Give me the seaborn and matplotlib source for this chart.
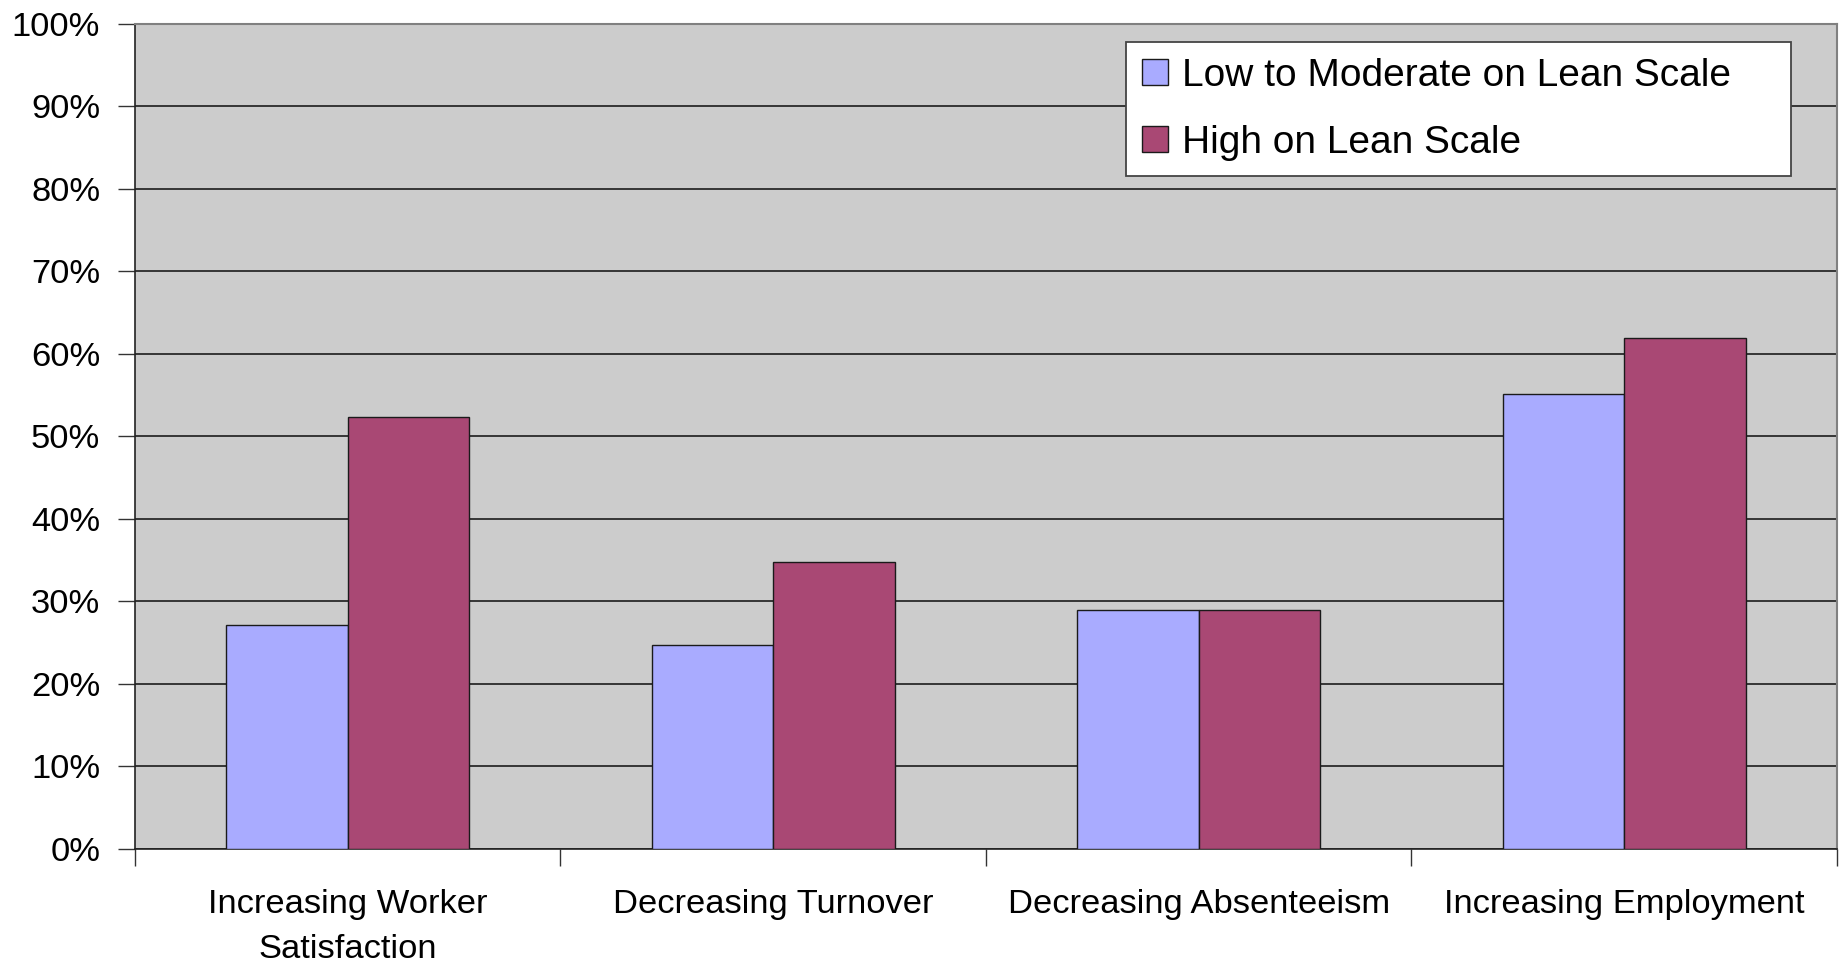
import matplotlib
matplotlib.use("Agg")
import matplotlib.pyplot as plt
from matplotlib.ticker import FixedLocator, FuncFormatter
import pandas as pd
import seaborn as sns

categories = ["Increasing Worker\nSatisfaction", "Decreasing Turnover",
              "Decreasing Absenteeism", "Increasing Employment"]
series_names = ["Low to Moderate on Lean Scale", "High on Lean Scale"]
low_values = [27.1, 24.7, 29.0, 55.1]
high_values = [52.4, 34.8, 29.0, 61.9]
colors = ["#A9ABFF", "#A94874"]
y_ticks = list(range(0, 101, 10))

df = pd.DataFrame({
    "category": categories * 2,
    "group": [series_names[0]] * len(categories) + [series_names[1]] * len(categories),
    "value": low_values + high_values,
})

sns.set_theme(style="white")
plt.rcParams["font.family"] = ["Liberation Sans", "DejaVu Sans"]

fig = plt.figure(figsize=(18.41, 9.63), dpi=100)
ax = fig.add_axes([0.0733, 0.1184, 0.9245, 0.8567])
ax.set_facecolor("#CCCCCC")

sns.barplot(data=df, x="category", y="value", hue="group", order=categories,
            hue_order=series_names, palette=colors, width=4 / 7, gap=0,
            edgecolor="#1a1a1a", linewidth=1.0, saturation=1, ax=ax, zorder=3)

ax.set_ylim(0, 100)
ax.set_xlim(-0.5, len(categories) - 0.5)
ax.yaxis.set_major_locator(FixedLocator(y_ticks))
ax.yaxis.set_major_formatter(FuncFormatter(lambda v, _: f"{int(v)}%"))
ax.grid(axis="y", color="#2a2a2a", linewidth=1.3, zorder=1)
ax.set_axisbelow(True)

# tick marks sit between categories; labels stay centred under each group
ax.set_xticks([i - 0.5 for i in range(len(categories) + 1)], minor=True)
ax.tick_params(axis="x", which="minor", length=12, width=1, color="#333333",
               direction="out", bottom=True)
ax.tick_params(axis="x", which="major", length=0, pad=28.5, labelsize=24.8,
               labelcolor="black")
ax.tick_params(axis="y", which="major", length=12, width=1, color="#333333",
               direction="out", left=True, pad=13, labelsize=24.8, labelcolor="black")
ax.set_xlabel("")
ax.set_ylabel("")
for lab in ax.get_xticklabels():
    lab.set_linespacing(1.59)

for side in ("left", "bottom"):
    ax.spines[side].set_color("#222222")
    ax.spines[side].set_linewidth(1.2)
for side in ("top", "right"):
    ax.spines[side].set_color("#808080")
    ax.spines[side].set_linewidth(1.5)

handles, labels = ax.get_legend_handles_labels()
leg = ax.legend(handles, labels, loc="upper left",
                bbox_to_anchor=(0.5823, 0.8145, 0.3907, 0.1636), mode="expand",
                borderaxespad=0, fontsize=28, frameon=True, fancybox=False,
                edgecolor="#444444", framealpha=1, handlelength=0.69,
                handleheight=0.62, handletextpad=0.36, labelspacing=0.8,
                borderpad=0.4)
leg.get_frame().set_linewidth(1.3)
leg.set_zorder(5)
for t in leg.get_texts():
    t.set_color("black")

fig.savefig("out.png", dpi=100, facecolor="white")
